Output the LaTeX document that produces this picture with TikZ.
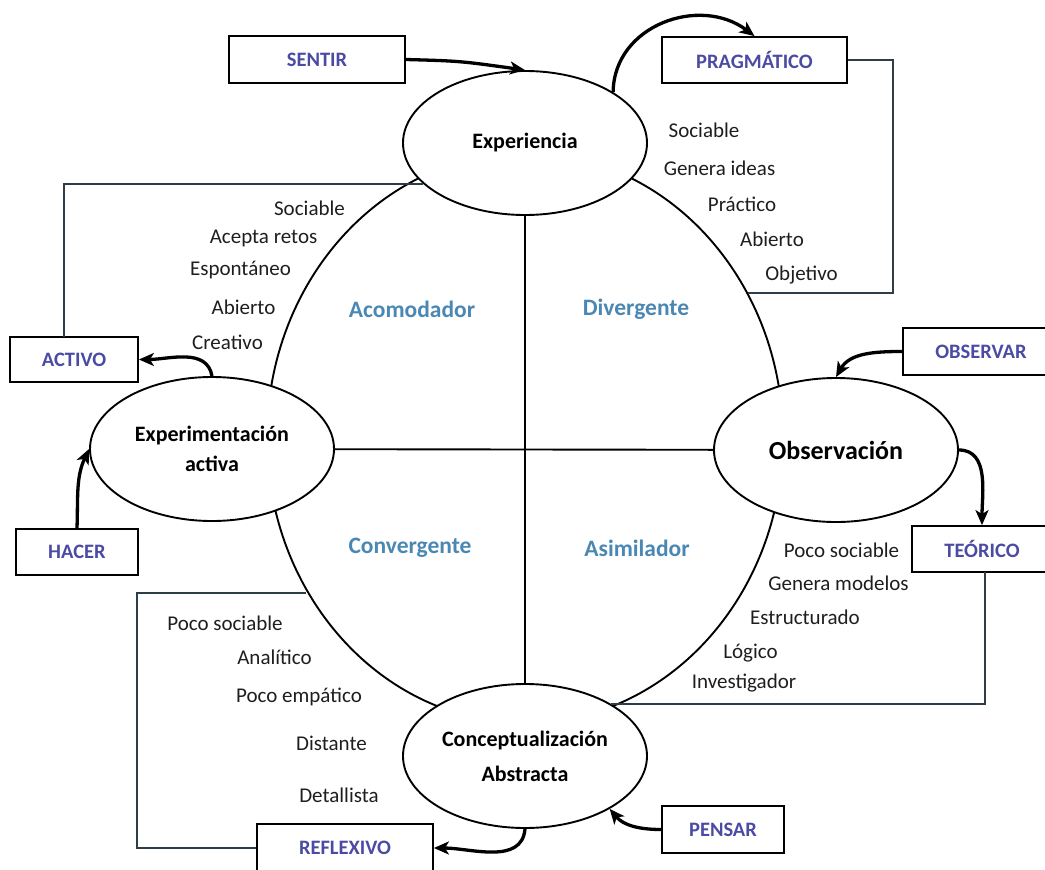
\documentclass[tikz,border=0pt]{standalone}
\usepackage{fontspec}
\setmainfont{Carlito}
\usetikzlibrary{arrows.meta,shapes.geometric,calc}
\definecolor{boxtxt}{HTML}{4B4BA3}
\definecolor{quadtxt}{HTML}{4A88B3}
\definecolor{thinln}{HTML}{2E3E48}
\definecolor{traittxt}{HTML}{1E1E1E}
\begin{document}
\begin{tikzpicture}[x=1pt,y=-1pt,
  stage/.style={ellipse,draw,line width=1.9pt,fill=white,inner sep=0pt,
    minimum width=244pt,minimum height=144pt,align=center,
    font=\bfseries\fontsize{22}{30}\selectfont},
  labelbox/.style={rectangle,draw,line width=1.8pt,fill=white,inner sep=0pt,
    text=boxtxt,font=\bfseries\fontsize{20.5}{24}\selectfont},
  trait/.style={inner sep=0pt,text=traittxt,font=\fontsize{21}{25}\selectfont},
  quad/.style={inner sep=0pt,text=quadtxt,font=\bfseries\fontsize{23.5}{28}\selectfont},
  arr/.style={line width=3.3pt,-{Stealth[length=15pt,width=13pt,inset=4pt]}},
  thin/.style={line width=1.6pt,draw=thinln}]
\useasboundingbox (0,0) rectangle (1045,870);
\clip (0,0) rectangle (1045,870);

% big outer ellipse
\draw[line width=1.9pt] (525,438) ellipse [x radius=258pt, y radius=285pt];

% stage ellipses
\node[stage] (exp) at (525,143) {Experiencia};
\node[stage] (exa) at (212,449) {Experimentación\\activa};
\node[stage,font=\bfseries\fontsize{26}{30}\selectfont] (obs) at (836,450) {Observación};
\node[stage,font=\bfseries\fontsize{22}{35}\selectfont] (conc) at (525,756) {Conceptualización\\Abstracta};

% cross lines
\draw[line width=1.9pt] (exp) -- (conc);
\draw[line width=1.9pt] (exa) -- (obs);

% quadrant labels
\node[quad] (qa) at (412,309) {Acomodador};
\node[quad] (qd) at (636,309) {Divergente};
\node[quad] (qc) at (410,548) {Convergente};
\node[quad] (qs) at (637,548) {Asimilador};

% boxes
\node[labelbox,minimum width=176pt,minimum height=47pt] (sentir) at (317,59.5) {SENTIR};
\node[labelbox,minimum width=185pt,minimum height=46pt] (prag) at (754.5,60) {PRAGMÁTICO};
\node[labelbox,minimum width=128pt,minimum height=45pt] (activo) at (74,359.5) {ACTIVO};
\node[labelbox,minimum width=122pt,minimum height=46pt] (hacer) at (77,552) {HACER};
\node[labelbox,minimum width=156pt,minimum height=47pt] (observar) at (981,351.5) {OBSERVAR};
\node[labelbox,minimum width=140pt,minimum height=46pt] (teorico) at (982,549) {TEÓRICO};
\node[labelbox,minimum width=176pt,minimum height=48pt] (reflexivo) at (345,848) {REFLEXIVO};
\node[labelbox,minimum width=122pt,minimum height=47pt] (pensar) at (723,829.5) {PENSAR};

% traits: Divergente (top right)
\node[trait] (d1) at (704,130) {Sociable};
\node[trait] (d2) at (719.5,168) {Genera ideas};
\node[trait] (d3) at (742,204) {Práctico};
\node[trait] (d4) at (772,239) {Abierto};
\node[trait] (d5) at (801.5,275) {Objetivo};
% Acomodador (top left)
\node[trait] (a1) at (309.5,208) {Sociable};
\node[trait] (a2) at (263.5,238) {Acepta retos};
\node[trait] (a3) at (240.5,270) {Espontáneo};
\node[trait] (a4) at (243.5,307) {Abierto};
\node[trait] (a5) at (227.5,342) {Creativo};
% Asimilador (bottom right)
\node[trait] (s1) at (841.5,550) {Poco sociable};
\node[trait] (s2) at (838.5,583) {Genera modelos};
\node[trait] (s3) at (805,617) {Estructurado};
\node[trait] (s4) at (750.5,653) {Lógico};
\node[trait] (s5) at (744,683) {Investigador};
% Convergente (bottom left)
\node[trait] (c1) at (225,623) {Poco sociable};
\node[trait] (c2) at (274.5,657) {Analítico};
\node[trait] (c3) at (299,697) {Poco empático};
\node[trait] (c4) at (331.5,743) {Distante};
\node[trait] (c5) at (339,795) {Detallista};

% thin frame connectors
\coordinate (ac1) at (64,337);
\draw[thin] (ac1) |- (exp.202);
\coordinate (pr1) at (893,293);
\coordinate (pr2) at (748,293);
\draw[thin] (prag.east) -| (pr1) -- (pr2);
\coordinate (te1) at (985,572);
\draw[thin] (te1) |- (conc.31);
\coordinate (rf1) at (137,593);
\coordinate (rf2) at (306,593);
\draw[thin] (reflexivo.west) -| (rf1) -- (rf2);

% thick arrows
\draw[arr] (sentir.east) .. controls (460,61) .. (exp.north);
\draw[arr] (exp.30) .. controls (614,25) and (700,-5) .. (prag.north);
\draw[arr] (exa.north) to[out=100,in=0] (activo.east);
\draw[arr] (hacer.north) to[out=88,in=-115] (exa.west);
\draw[arr] (observar.west) to[out=180,in=60] (obs.north);
\draw[arr] (obs.east) to[out=0,in=90] (teorico.north);
\draw[arr] (conc.south) to[out=-95,in=0] (reflexivo.east);
\draw[arr] (pensar.west) to[out=180,in=-50] (conc.-32);
\end{tikzpicture}
\end{document}
